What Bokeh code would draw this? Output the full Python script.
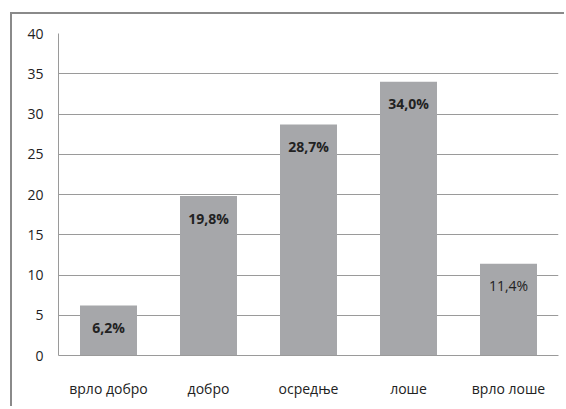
from bokeh.plotting import figure
from bokeh.models import ColumnDataSource, FixedTicker
from bokeh.core.properties import value
from bokeh.embed import file_html
from bokeh.resources import INLINE

categories = ["врло добро", "добро", "осредње", "лоше", "врло лоше"]
values = [6.2, 19.8, 28.7, 34.0, 11.4]
labels = ["6,2%", "19,8%", "28,7%", "34,0%", "11,4%"]
y_ticks = [0, 5, 10, 15, 20, 25, 30, 35, 40]

src = ColumnDataSource(dict(
    cat=categories, val=values, lab=labels,
    style=["bold", "bold", "bold", "bold", "normal"],
))

p = figure(x_range=categories, y_range=(0, 40), width=554, height=394,
           output_backend="svg", toolbar_location=None,
           min_border_left=46, min_border_right=8, min_border_top=19, min_border_bottom=53)
p.styles = {"border-top": "2px solid #8a8a8a", "border-left": "2px solid #8a8a8a",
            "margin-top": "12px", "margin-left": "10px"}
p.outline_line_color = None
p.background_fill_color = "white"

p.vbar(x="cat", top="val", width=0.57, source=src, fill_color="#a6a7aa", line_color=None)
p.text(x="cat", y="val", text="lab", source=src, text_align="center", text_baseline="middle",
       y_offset=22, text_font=value("Open Sans"), text_font_size="14px",
       text_font_style="style", text_color="#222222")

p.yaxis.ticker = FixedTicker(ticks=y_ticks)
p.yaxis.axis_line_color = "#9a9a9a"
p.yaxis.major_tick_line_color = None
p.yaxis.major_tick_out = 0
p.yaxis.major_tick_in = 0
p.yaxis.minor_tick_line_color = None
p.yaxis.major_label_standoff = 15
p.yaxis.major_label_text_font = "Open Sans"
p.yaxis.major_label_text_font_size = "14px"
p.yaxis.major_label_text_color = "#222222"

p.xaxis.axis_line_color = "#9a9a9a"
p.xaxis.major_tick_line_color = None
p.xaxis.major_tick_out = 0
p.xaxis.major_tick_in = 0
p.xaxis.minor_tick_line_color = None
p.xaxis.major_label_standoff = 23
p.xaxis.major_label_text_font = "Open Sans"
p.xaxis.major_label_text_font_size = "14px"
p.xaxis.major_label_text_color = "#222222"

p.xgrid.grid_line_color = None
p.ygrid.grid_line_color = "#9a9a9a"
p.ygrid.grid_line_width = 1

open("out.html", "w").write(file_html(p, INLINE))
